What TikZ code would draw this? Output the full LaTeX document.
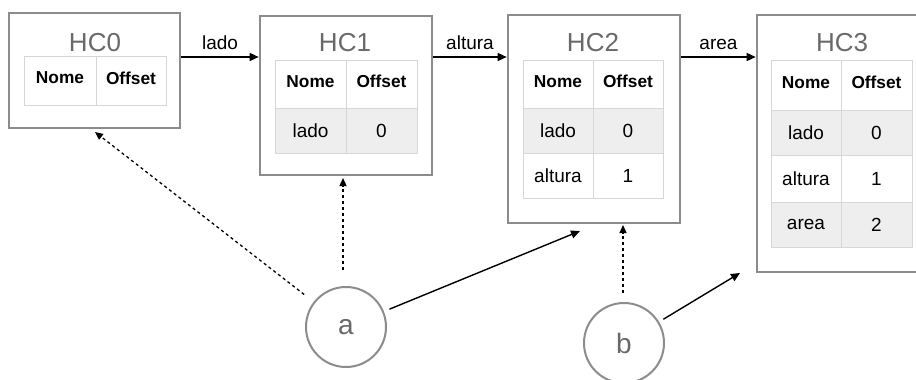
\documentclass[tikz,border=0pt]{standalone}
\usepackage{fontspec}
\setmainfont{Liberation Sans}
\usetikzlibrary{arrows.meta}
\definecolor{boxgray}{RGB}{140,140,140}
\definecolor{cellline}{RGB}{215,215,215}
\definecolor{cellfill}{RGB}{238,238,238}
\definecolor{titlegray}{RGB}{105,105,105}
\tikzset{
  hcbox/.style={draw=boxgray, line width=2.6pt, fill=white},
  hctitle/.style={text=titlegray, font=\fontsize{26}{26}\selectfont, inner sep=0pt},
  cellw/.style={draw=cellline, line width=0.8pt, fill=white, font=\fontsize{19}{19}\selectfont, inner sep=0pt, minimum height=#1},
  cellg/.style={cellw=#1, fill=cellfill},
  hdr/.style={font=\fontsize{17.3}{18}\selectfont\bfseries, text depth=5pt},
  link/.style={-{Triangle[length=9pt,width=8pt]}, line width=1.4pt, black},
  dotlink/.style={-{Triangle[length=8pt,width=7pt]}, line width=1.3pt, black, dash pattern=on 3pt off 3pt},
  varnode/.style={circle, draw=boxgray, line width=2pt, minimum size=80pt, inner sep=0pt, text=titlegray, font=\fontsize{28}{28}\selectfont},
  elabel/.style={font=\fontsize{19}{19}\selectfont, inner sep=0pt}
}
\begin{document}
\begin{tikzpicture}[x=1pt, y=-1pt]
\useasboundingbox (0,0) rectangle (916,380);
% ---- HC0
\node[hcbox, minimum width=171pt, minimum height=115pt] (hc0) at (94.5,70.5) {};
\node[hctitle] (t0) at (95,43) {HC0};
\node[cellw=49pt, minimum width=72pt, hdr] (hc0n) at (60,80.5) {Nome};
\node[cellw=49pt, minimum width=70pt, hdr] (hc0o) at (131,80.5) {Offset};
% ---- HC1
\node[hcbox, minimum width=172pt, minimum height=159pt] (hc1) at (346,95.5) {};
\node[hctitle] (t1) at (345,43) {HC1};
\node[cellw=48pt, minimum width=71pt, hdr] (hc1n) at (310.5,84) {Nome};
\node[cellw=48pt, minimum width=71pt, hdr] (hc1o) at (381.5,84) {Offset};
\node[cellg=45pt, minimum width=71pt] (hc1a) at (310.5,130.5) {lado};
\node[cellg=45pt, minimum width=71pt] (hc1b) at (381.5,130.5) {0};
% ---- HC2
\node[hcbox, minimum width=172pt, minimum height=208pt] (hc2) at (594,119) {};
\node[hctitle] (t2) at (593,43) {HC2};
\node[cellw=48pt, minimum width=70pt, hdr] (hc2n) at (558,84) {Nome};
\node[cellw=48pt, minimum width=70pt, hdr] (hc2o) at (628,84) {Offset};
\node[cellg=45pt, minimum width=70pt] (hc2a) at (558,130.5) {lado};
\node[cellg=45pt, minimum width=70pt] (hc2b) at (628,130.5) {0};
\node[cellw=45pt, minimum width=70pt] (hc2c) at (558,175.5) {altura};
\node[cellw=45pt, minimum width=70pt] (hc2d) at (628,175.5) {1};
% ---- HC3
\node[hcbox, minimum width=172pt, minimum height=257pt] (hc3) at (843,143.5) {};
\node[hctitle] (t3) at (842,43) {HC3};
\node[cellw=50pt, minimum width=70pt, hdr] (hc3n) at (806,85) {Nome};
\node[cellw=50pt, minimum width=71pt, hdr] (hc3o) at (876.5,85) {Offset};
\node[cellg=45pt, minimum width=70pt] (hc3a) at (806,132.5) {lado};
\node[cellg=45pt, minimum width=71pt] (hc3b) at (876.5,132.5) {0};
\node[cellw=47pt, minimum width=70pt] (hc3c) at (806,178.5) {altura};
\node[cellw=47pt, minimum width=71pt] (hc3d) at (876.5,178.5) {1};
\node[cellg=45pt, minimum width=70pt, text depth=0pt] (hc3e) at (806,224.5) {area};
\node[cellg=45pt, minimum width=71pt] (hc3f) at (876.5,224.5) {2};
% ---- variables
\node[varnode] (a) at (346,327) {a};
\node[varnode] (b) at (624,343) {b};
% ---- chain arrows
\draw[link] (hc0.east |- 0,57) -- (hc1.west |- 0,57) node[elabel, midway, above=7pt] (l1) {lado};
\draw[link] (hc1.east |- 0,57) -- (hc2.west |- 0,57) node[elabel, midway, above=7pt] (l2) {altura};
\draw[link] (hc2.east |- 0,57) -- (hc3.west |- 0,57) node[elabel, midway, above=7pt] (l3) {area};
% ---- pointer arrows
\coordinate (p0) at (95,132);
\coordinate (p1) at (343,178);
\coordinate (p2) at (580,231);
\coordinate (p3) at (623,225);
\coordinate (p4) at (740,273);
\draw[dotlink, shorten <=12pt] (a) -- (p0);
\draw[dotlink, shorten <=16pt] (a.north -| p1) -- (p1);
\draw[link, shorten <=6pt] (a) -- (p2);
\draw[dotlink, shorten <=9pt] (b.north -| p3) -- (p3);
\draw[link, shorten <=5pt] (b) -- (p4);
\end{tikzpicture}
\end{document}
